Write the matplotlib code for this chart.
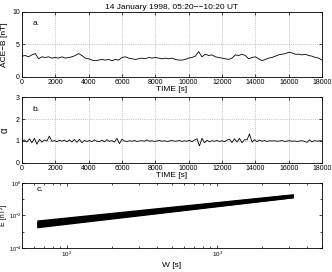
import matplotlib
matplotlib.use("Agg")
from matplotlib import pyplot as plt
from matplotlib.ticker import LogLocator, NullFormatter
import numpy as np

plt.rcParams['font.family'] = ['Liberation Sans', 'DejaVu Sans']
plt.rcParams['mathtext.fontset'] = 'dejavusans'

# panel a: ACE-B [nT], every 200 s
t_b = list(range(0, 18001, 200))
ace_b = [3.2, 3.3, 3.1, 3.4, 3.6, 2.8, 3.1, 3.0, 3.1, 2.9,
         3.0, 2.9, 3.1, 2.9, 3.0, 3.1, 3.3, 3.6, 3.3, 2.9,
         2.8, 2.6, 2.5, 2.6, 2.7, 2.6, 2.7, 2.5, 2.7, 2.6,
         3.0, 3.1, 2.9, 2.8, 2.7, 2.8, 2.9, 2.8, 3.0, 2.9,
         3.0, 2.9, 2.8, 2.9, 2.8, 2.9, 2.7, 2.6, 2.6, 2.7,
         2.9, 3.0, 3.2, 3.9, 3.1, 3.5, 3.3, 3.4, 3.1, 3.0,
         2.9, 2.8, 2.7, 2.9, 3.4, 3.3, 3.5, 3.3, 2.8, 3.0,
         3.1, 2.8, 2.5, 2.7, 2.9, 3.0, 3.2, 3.4, 3.5, 3.6,
         3.8, 3.7, 3.5, 3.5, 3.4, 3.5, 3.3, 3.2, 3.0, 2.9,
         2.6]

# panel b: alpha, every 150 s
t_alpha = list(range(0, 18001, 150))
alpha = [1.0, 1.05, 0.95, 1.1, 0.92, 1.12, 0.85, 1.08, 0.95, 1.05, 1.0,
         1.22, 0.98, 1.02, 0.97, 1.03, 0.99, 1.04, 0.96, 1.05, 0.95,
         1.07, 0.94, 1.08, 0.92, 1.03, 0.98, 1.02, 0.97, 1.05, 0.99,
         0.97, 1.04, 0.96, 1.06, 0.98, 1.02, 0.95, 1.12, 0.88, 1.08,
         1.0, 0.98, 1.01, 0.99, 1.02, 0.98, 1.0, 1.01, 0.99, 1.05,
         0.99, 1.01, 0.98, 1.0, 1.02, 0.99, 1.01, 0.98, 1.0, 1.02,
         0.99, 1.0, 1.02, 0.98, 1.01, 0.99, 1.03, 0.97, 1.04, 1.1,
         0.78, 1.12, 0.92, 1.03, 0.97, 1.01, 0.99, 1.02, 0.98, 1.01,
         0.97, 1.04, 1.08, 0.93, 1.1, 0.95, 1.12, 0.92, 1.06, 1.05,
         1.32, 0.95, 1.06, 0.97, 1.04, 0.99, 1.02, 0.98, 1.01, 1.0,
         1.01, 0.99, 1.0, 1.02, 0.98, 1.0, 1.01, 0.99, 1.0, 0.98,
         1.0, 1.01, 0.98, 0.94, 1.05, 0.96, 1.02, 0.99, 1.01, 1.0]

# panel c: E(W) power-law lines, end points
w_ends = [64, 3200]
e_start = [0.0018, 0.0020, 0.0022, 0.0024, 0.0026, 0.0028, 0.0030,
           0.0033, 0.0036, 0.0040, 0.0045]
e_end = [0.120, 0.125, 0.130, 0.135, 0.140, 0.145, 0.150,
         0.155, 0.160, 0.170, 0.180]

fs = 5
fig = plt.figure(figsize=(3.32, 2.72), dpi=100)

def style(ax):
    ax.tick_params(direction='in', top=True, right=True, labelsize=fs,
                   length=2.5, width=0.5, pad=1.5)
    ax.tick_params(which='minor', direction='in', top=True, right=True,
                   length=1.5, width=0.5)
    for s in ax.spines.values():
        s.set_linewidth(0.6)

ax1 = fig.add_axes([0.066, 0.717, 0.904, 0.239])
ax1.plot(t_b, ace_b, color='k', lw=0.6)
ax1.set_xlim(0, 18000)
ax1.set_ylim(0, 10)
ax1.set_xticks(range(0, 18001, 2000))
ax1.set_yticks([0, 5, 10])
ax1.grid(True, linestyle=':', color='0.6', lw=0.5)
ax1.set_xlabel('TIME [s]', fontsize=6, labelpad=0)
ax1.set_ylabel('ACE\u2212B [nT]', fontsize=6)
ax1.yaxis.set_label_coords(-0.045, 0.5)
ax1.set_title('14 January 1998, 05:20\u2212\u221210:20 UT', fontsize=6, pad=2)
ax1.text(0.035, 0.83, 'a.', transform=ax1.transAxes, fontsize=6, va='center')
style(ax1)

ax2 = fig.add_axes([0.066, 0.401, 0.904, 0.242])
ax2.plot(t_alpha, alpha, color='k', lw=0.6)
ax2.set_xlim(0, 18000)
ax2.set_ylim(0, 3)
ax2.set_xticks(range(0, 18001, 2000))
ax2.set_yticks([0, 1, 2, 3])
ax2.grid(True, linestyle=':', color='0.6', lw=0.5)
ax2.set_xlabel('TIME [s]', fontsize=6, labelpad=0)
ax2.set_ylabel('\u03b1', fontsize=7)
ax2.yaxis.set_label_coords(-0.04, 0.5)
ax2.text(0.035, 0.81, 'b.', transform=ax2.transAxes, fontsize=6, va='center')
style(ax2)

ax3 = fig.add_axes([0.066, 0.088, 0.904, 0.240])
for e0, e1 in zip(e_start, e_end):
    ax3.loglog(w_ends, [e0, e1], color='k', lw=1.0)
ax3.set_xlim(50, 5000)
ax3.set_ylim(1e-4, 1)
ax3.set_yticks([1e-4, 1e-2, 1])
ax3.yaxis.set_minor_locator(LogLocator(base=10, subs=[]))
ax3.yaxis.set_minor_formatter(NullFormatter())
ax3.xaxis.set_minor_locator(LogLocator(base=10, subs=np.arange(2, 10)))
ax3.xaxis.set_minor_formatter(NullFormatter())
ax3.set_xlabel('W [s]', fontsize=6, labelpad=2)
ax3.set_ylabel('E [nT\u00b2]', fontsize=5)
ax3.yaxis.set_label_coords(-0.05, 0.5)
ax3.text(0.05, 0.9, 'c.', transform=ax3.transAxes, fontsize=6, va='center')
style(ax3)
ax3.tick_params(axis='y', labelsize=4, pad=0.5)
ax3.tick_params(axis='x', labelsize=4.5)

fig.savefig('out.png', dpi=100)
